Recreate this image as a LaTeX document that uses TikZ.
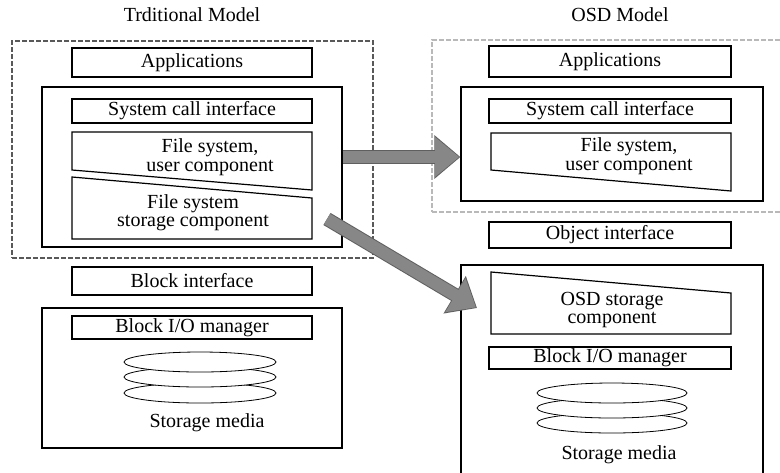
\documentclass[tikz,border=0pt]{standalone}
\usepackage{fontspec}
\setmainfont{Liberation Serif}
\usetikzlibrary{arrows.meta, calc}
\definecolor{arrowgray}{RGB}{135,135,135}
\definecolor{arrowedge}{RGB}{95,95,95}

\begin{document}
\begin{tikzpicture}[x=0.5pt, y=-0.5pt,
    font=\fontsize{10}{9.2}\selectfont,
    box/.style={draw, line width=0.6pt, minimum width=120pt, inner sep=0pt},
    layerbox/.style={draw, line width=0.6pt, inner sep=0pt},
    modelbox/.style={draw=#1, line width=0.6pt, dash pattern=on 2.5pt off 1pt, inner sep=0pt},
    slab/.style={draw, line width=0.6pt},
    disk/.style={draw, line width=0.4pt, fill=white},
    fatedge/.style={draw=arrowedge, line width=7pt, -{Triangle[width=21pt, length=13pt]}},
    fatarrow/.style={draw=arrowgray, line width=6pt, shorten >=0.6pt, -{Triangle[width=19pt, length=12pt]}}]
    \useasboundingbox (0,0) rectangle (780,472);
    \clip (0,0) rectangle (780,472);

    % titles
    \node (ttitle) at (192,15) {Trditional Model};
    \node (otitle) at (620,15) {OSD Model};

    % traditional model
    \node[modelbox=gray!70!black, minimum width=180.5pt, minimum height=108.5pt] (tmodel) at (192.5,149.5) {};
    \node[box, minimum height=14.5pt] (tapps) at (192,62.5) {Applications};
    \node[layerbox, minimum width=150pt, minimum height=80pt] (tfs) at (192,167) {};
    \node[box, minimum height=12pt] (tsci) at (192,111) {System call interface};
    \draw[slab] (72,132) -- (312,132) -- (312,190) -- (72,170) -- cycle;
    \node[align=center] (tuser) at (210,157) {File system,\\ user component};
    \draw[slab] (72,177) -- (312,198) -- (312,239) -- (72,239) -- cycle;
    \node[align=center] (tstore) at (193,213) {File system\\storage component};
    \node[box, minimum height=14pt] (tblk) at (192,281) {Block interface};
    \node[layerbox, minimum width=150pt, minimum height=70pt] (tdev) at (192,378) {};
    \node[box, minimum height=11.5pt] (tbio) at (192,327.5) {Block I/O manager};
    \foreach \y in {393,377,362}
        \draw[disk] (200,\y) ellipse [x radius=76, y radius=10];
    \node (tmedia) at (207,423) {Storage media};

    % OSD model
    \node[modelbox=gray!55, minimum width=184pt, minimum height=86pt] (omodel) at (616,126) {};
    \node[box, minimum width=121pt, minimum height=15.5pt] (oapps) at (610,61.5) {Applications};
    \node[layerbox, minimum width=151pt, minimum height=57pt] (ofs) at (612,144) {};
    \node[box, minimum width=121pt, minimum height=12pt] (osci) at (610,111) {System call interface};
    \draw[slab] (491,133) -- (731,133) -- (731,191) -- (491,170) -- cycle;
    \node[align=center] (ouser) at (629,156) {File system,\\ user component};
    \node[box, minimum width=121pt, minimum height=13pt] (oobj) at (610,235) {Object interface};
    \node[layerbox, minimum width=151pt, minimum height=115pt] (odev) at (612,380) {};
    \draw[slab] (491,272) -- (731,293) -- (731,334) -- (491,334) -- cycle;
    \node[align=center] (ostore) at (612,310) {OSD storage\\component};
    \node[box, minimum width=121pt, minimum height=11pt] (obio) at (610,358) {Block I/O manager};
    \foreach \y in {423,408,393}
        \draw[disk] (612,\y) ellipse [x radius=75, y radius=10];
    \node (omedia) at (619,455) {Storage media};

    % fat arrows
    \coordinate (dstart) at (327,219);
    \coordinate (dend) at (477,308);
    \draw[fatedge] (tuser.center -| tfs.east) -- (tuser.center -| ofs.west);
    \draw[fatarrow] (tuser.center -| tfs.east) -- (tuser.center -| ofs.west);
    \draw[fatedge] (dstart) -- (dend);
    \draw[fatarrow] (dstart) -- (dend);
\end{tikzpicture}
\end{document}
